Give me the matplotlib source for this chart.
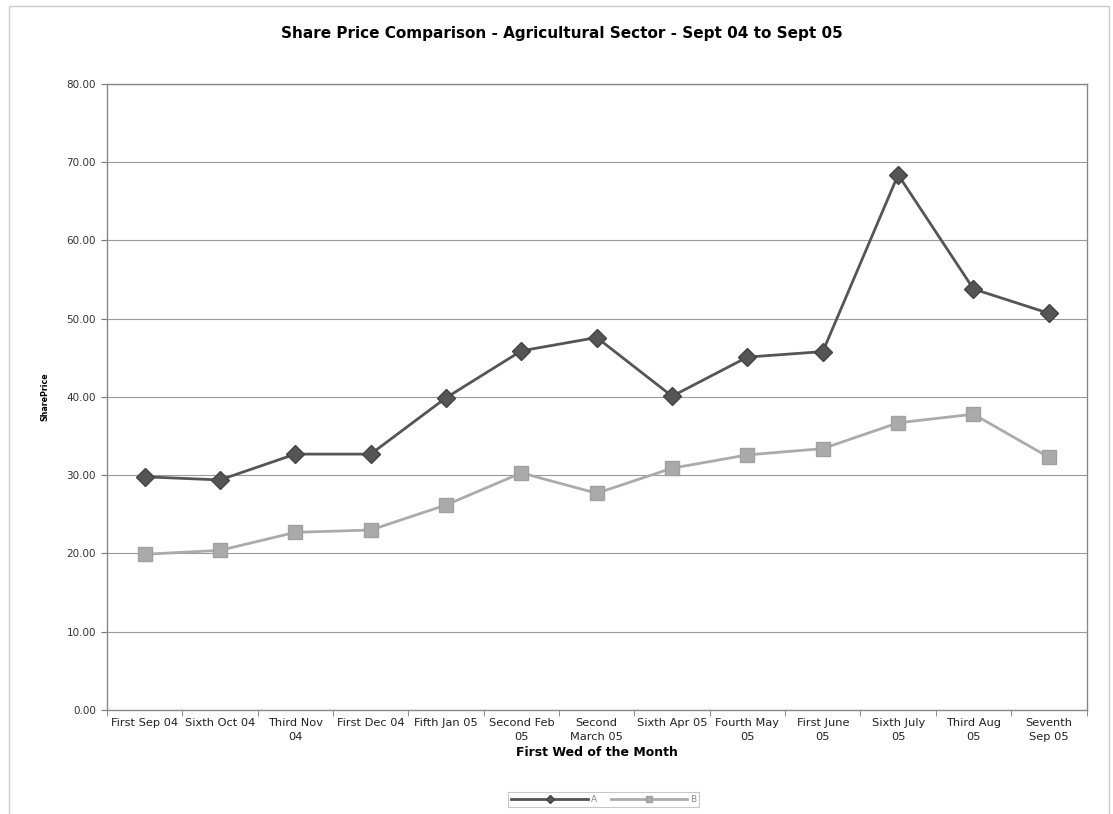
import matplotlib
matplotlib.use("Agg")
import matplotlib.pyplot as plt
from matplotlib.patches import Rectangle
import numpy as np

months = ["First Sep 04", "Sixth Oct 04", "Third Nov\n04", "First Dec 04",
          "Fifth Jan 05", "Second Feb\n05", "Second\nMarch 05", "Sixth Apr 05",
          "Fourth May\n05", "First June\n05", "Sixth July\n05", "Third Aug\n05",
          "Seventh\nSep 05"]
price_a = [29.8, 29.4, 32.7, 32.7, 39.9, 45.9, 47.6, 40.1, 45.1, 45.8, 68.4, 53.8, 50.7]
price_b = [19.9, 20.4, 22.7, 23.0, 26.2, 30.3, 27.7, 30.9, 32.6, 33.4, 36.7, 37.8, 32.3]

plt.rcParams['font.family'] = ['DejaVu Sans']

fig = plt.figure(figsize=(11.13, 8.14), dpi=100)
ax = fig.add_axes([0.0961, 0.1278, 0.8801, 0.769])

x = np.arange(len(months))
ax.plot(x, price_a, color="#555555", lw=2, marker="D", ms=9,
        markerfacecolor="#555555", markeredgecolor="#444444", label="A", zorder=3)
ax.plot(x, price_b, color="#ababab", lw=2, marker="s", ms=10,
        markerfacecolor="#aaaaaa", markeredgecolor="#a0a0a0", label="B", zorder=3)

ax.set_xlim(-0.5, len(months) - 0.5)
ax.set_ylim(0, 80)
ax.set_yticks(np.arange(0, 81, 10))
ax.set_yticklabels([f"{v:.2f}" for v in range(0, 81, 10)], fontsize=7.5, color="#333333")
ax.yaxis.grid(True, color="#999999", lw=0.8)
ax.set_axisbelow(True)

# category labels sit between the boundary tick marks
ax.set_xticks(x)
ax.set_xticklabels(months, fontsize=8.2, color="#222222", linespacing=1.4)
ax.tick_params(axis="x", length=0, pad=6)
ax.set_xticks(np.arange(-0.5, len(months)), minor=True)
ax.tick_params(axis="x", which="minor", length=4, color="#777777")
ax.tick_params(axis="y", length=4, color="#777777", pad=4)

for s in ax.spines.values():
    s.set_color("#888888")
    s.set_linewidth(1)

ax.set_xlabel("First Wed of the Month", fontsize=9, fontweight="bold", labelpad=3)
ax.set_ylabel("SharePrice", fontsize=5.7, fontweight="bold", labelpad=12)

fig.text(0.5045, 0.959, "Share Price Comparison - Agricultural Sector - Sept 04 to Sept 05",
         ha="center", va="center", fontsize=11, fontweight="bold")

leg = fig.legend(loc="center", bbox_to_anchor=(0.5425, 0.018), ncol=2, fontsize=6.5,
                 frameon=True, fancybox=False, handlelength=8.5, markerscale=0.5,
                 columnspacing=1.5, handletextpad=0.3, borderpad=0.35,
                 labelcolor="#888888")
leg.get_frame().set_edgecolor("#bbbbbb")
leg.get_frame().set_linewidth(0.8)

fig.patches.append(Rectangle((0.008, -0.01), 0.988, 1.003, transform=fig.transFigure,
                             fill=False, edgecolor="#cccccc", lw=1))

fig.savefig("out.png", dpi=100)
